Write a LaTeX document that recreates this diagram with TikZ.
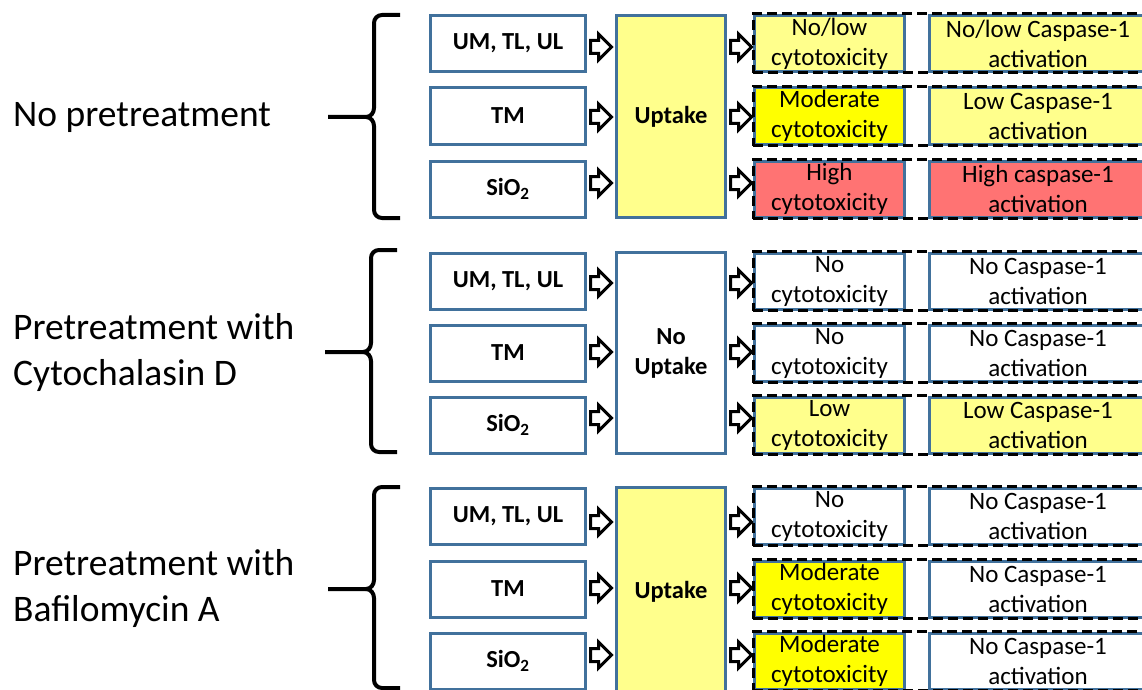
\documentclass[tikz,border=0pt]{standalone}
\usepackage{fontspec}
\setmainfont{Carlito}
\usetikzlibrary{shapes.arrows,fit,calc}
\definecolor{bblue}{RGB}{65,113,156}
\definecolor{lyel}{RGB}{255,255,140}
\definecolor{byel}{RGB}{255,255,0}
\definecolor{lred}{RGB}{255,115,115}
\tikzset{
  inbox/.style={draw=bblue, line width=3pt, fill=white, minimum width=155pt, minimum height=56pt, inner sep=0pt, font=\fontsize{24.5}{29}\selectfont\bfseries},
  upbox/.style={draw=bblue, line width=3pt, minimum width=109pt, inner sep=0pt, align=center, font=\fontsize{24.5}{30}\selectfont\bfseries},
  resbox/.style={draw=bblue, line width=3pt, minimum height=56pt, inner sep=0pt, align=center, font=\fontsize{25}{30}\selectfont},
  cytobox/.style={resbox, minimum width=150pt},
  caspbox/.style={resbox, minimum width=217pt},
  dashbox/.style={draw=black, line width=3pt, dash pattern=on 10pt off 5pt, inner sep=0pt},
  barrow/.style={single arrow, draw=black, line width=3pt, fill=white, minimum height=21pt, single arrow head extend=6.5pt, inner xsep=0pt, inner ysep=5pt, anchor=west},
  brace/.style={draw=black, line width=4pt},
  lbl/.style={anchor=west, align=left, inner sep=0pt, font=\fontsize{37.5}{46}\selectfont}
}
\begin{document}
\begin{tikzpicture}[x=1pt,y=-1pt]
\useasboundingbox (0,0) rectangle (1142,690);
\fill[white] (0,0) rectangle (1142,690);

% left labels
\node[lbl] (g1lbl) at (13,117) {No pretreatment};
\node[lbl] (g2lbl) at (13,352) {Pretreatment with\\Cytochalasin D};
\node[lbl] (g3lbl) at (13,588) {Pretreatment with\\Bafilomycin A};

% braces
\draw[brace] (400,15) -- (382,15) to[out=180,in=90] (374,23) -- (374,108) to[out=-90,in=0] (366,117) -- (328,117);
\draw[brace] (366,117) to[out=0,in=90] (374,126) -- (374,210) to[out=-90,in=180] (382,218) -- (400,218);
\draw[brace] (397,250) -- (379,250) to[out=180,in=90] (371,258) -- (371,343) to[out=-90,in=0] (363,352) -- (325,352);
\draw[brace] (363,352) to[out=0,in=90] (371,361) -- (371,444) to[out=-90,in=180] (379,452) -- (397,452);
\draw[brace] (400,487) -- (382,487) to[out=180,in=90] (374,495) -- (374,580) to[out=-90,in=0] (366,589) -- (328,589);
\draw[brace] (366,589) to[out=0,in=90] (374,598) -- (374,680) to[out=-90,in=180] (382,688) -- (400,688);

% input boxes
\node[inbox] (i11) at (508,43.5) {UM, TL, UL};
\node[inbox] (i12) at (508,116) {TM};
\node[inbox] (i13) at (508,189) {SiO\textsubscript{2}};
\node[inbox] (i21) at (508,281) {UM, TL, UL};
\node[inbox] (i22) at (508,353) {TM};
\node[inbox] (i23) at (508,425) {SiO\textsubscript{2}};
\node[inbox] (i31) at (508,516) {UM, TL, UL};
\node[inbox] (i32) at (508,589) {TM};
\node[inbox] (i33) at (508,661) {SiO\textsubscript{2}};

% uptake boxes
\node[upbox, fill=lyel, minimum height=202pt] (u1) at (671,116.5) {Uptake};
\node[upbox, fill=white, minimum height=201pt] (u2) at (671,353) {No\\Uptake};
\node[upbox, fill=lyel, minimum height=210pt] (u3) at (671,592) {Uptake};

% result boxes group 1
\node[cytobox, fill=lyel] (c11) at (829.5,43.5) {No/low\\cytotoxicity};
\node[caspbox, fill=lyel] (k11) at (1038,43.5) {No/low Caspase-1\\activation};
\node[cytobox, fill=byel] (c12) at (829.5,116) {Moderate\\cytotoxicity};
\node[caspbox, fill=lyel] (k12) at (1038,116) {Low Caspase-1\\activation};
\node[cytobox, fill=lred] (c13) at (829.5,189) {High\\cytotoxicity};
\node[caspbox, fill=lred] (k13) at (1038,189) {High caspase-1\\activation};
% group 2
\node[cytobox, fill=white] (c21) at (829.5,281) {No\\cytotoxicity};
\node[caspbox, fill=white] (k21) at (1038,281) {No Caspase-1\\activation};
\node[cytobox, fill=white] (c22) at (829.5,353) {No\\cytotoxicity};
\node[caspbox, fill=white] (k22) at (1038,353) {No Caspase-1\\activation};
\node[cytobox, fill=lyel] (c23) at (829.5,425) {Low\\cytotoxicity};
\node[caspbox, fill=lyel] (k23) at (1038,425) {Low Caspase-1\\activation};
% group 3
\node[cytobox, fill=white] (c31) at (829.5,516) {No\\cytotoxicity};
\node[caspbox, fill=white] (k31) at (1038,516) {No Caspase-1\\activation};
\node[cytobox, fill=byel] (c32) at (829.5,589) {Moderate\\cytotoxicity};
\node[caspbox, fill=white] (k32) at (1038,589) {No Caspase-1\\activation};
\node[cytobox, fill=byel] (c33) at (829.5,661) {Moderate\\cytotoxicity};
\node[caspbox, fill=white] (k33) at (1038,661) {No Caspase-1\\activation};

% dashed frames
\foreach \r in {11,12,13,21,22,23,31,32,33}{
  \node[dashbox, fit=(c\r.west)(k\r.east)(c\r.north)(c\r.south)] (d\r) {};
}

% block arrows
\foreach \r/\y in {11/47,12/117,13/183,21/283,22/352,23/418,31/522,32/588,33/655}{
  \node[barrow] (a\r) at (589,\y) {};
  \node[barrow] (b\r) at (729,\y) {};
}
\end{tikzpicture}
\end{document}
